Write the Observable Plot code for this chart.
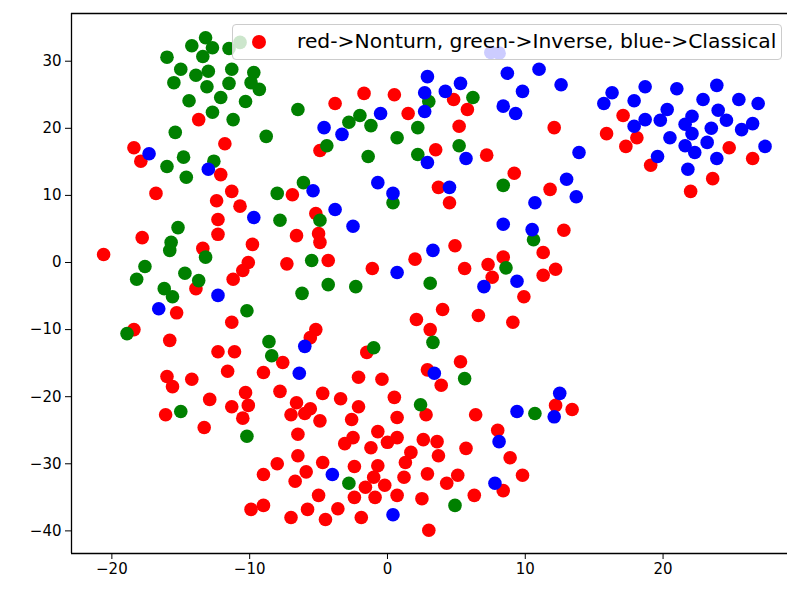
<!DOCTYPE html>
<html>
<head>
<meta charset="utf-8">
<script src="https://cdn.jsdelivr.net/npm/d3@7"></script>
<script src="https://cdn.jsdelivr.net/npm/@observablehq/plot@0.6"></script>
<style>
  body { margin: 0; background: #fff; }
  #wrap { position: relative; width: 787px; height: 592px; }
  #legend {
    position: absolute; left: 232px; top: 24px; width: 548px; height: 34px;
    background: rgba(255,255,255,0.8); border: 1px solid #cccccc; border-radius: 4px;
    font-family: "DejaVu Sans", sans-serif; font-size: 20.3px; color: #000;
  }
  #legend .mk { position: absolute; left: 19px; top: 10px; width: 14px; height: 14px; border-radius: 50%; background: #ff0000; }
  #legend .tx { position: absolute; left: 64px; top: 4px; white-space: nowrap; }
</style>
</head>
<body>
<div id="wrap"><div id="legend"><span class="mk"></span><span class="tx"></span></div></div>
<script>
const legendText = "red->Nonturn, green->Inverse, blue->Classical";
const xTicks = [-20, -10, 0, 10, 20];
const yTicks = [-40, -30, -20, -10, 0, 10, 20, 30];

// Nonturn (red)
const redX = [-18.4,-13.7,-11.8,-3.8,-1.7,0.5,4.8,5.8,1.5,5.2,3.5,-4.9,17.1,15.9,18.1,12.1,17.3,24.8,19.1,26.5,23.6,22.0,11.8,12.8,11.3,12.2,11.3,-17.9,-12.1,-11.3,-12.4,-10.7,-16.8,-12.3,-12.3,-17.8,-20.6,-13.4,-9.8,-10.1,-10.5,-11.2,-6.9,-6.6,-7.3,7.2,9.2,3.7,4.5,-5.2,-5.0,-4.9,-4.3,-1.1,2.0,4.9,5.6,7.3,7.6,8.4,-13.9,-15.3,-18.4,-11.3,-15.8,-12.3,-11.1,-11.6,-9.0,-7.6,-16.0,-15.6,-14.2,-10.3,-7.8,-12.9,-10.1,-11.3,-6.6,-7.0,-16.1,-6.0,-10.5,9.9,4.0,2.1,3.1,6.6,9.1,-5.2,-5.6,-1.5,5.3,2.9,3.9,-2.1,-0.4,-4.7,-3.4,0.5,-2.1,-5.6,6.4,2.8,-4.9,-2.6,0.7,12.2,13.4,-13.3,-6.5,-6.5,-8.0,-9.0,-6.7,-5.9,-9.9,-9.0,-7.0,-5.8,8.0,-0.7,-2.5,-3.1,0.7,0.0,-1.2,2.6,3.6,3.7,5.7,8.9,1.7,1.3,-0.7,-2.4,-4.7,-1.0,1.2,2.9,5.1,4.3,-0.2,-1.6,-5.0,-2.4,-0.9,0.7,2.5,6.3,8.4,9.8,-3.6,-4.5,-1.9,3.0];
const redY = [17.1,21.3,17.7,23.7,25.2,25.0,24.3,22.8,22.2,20.3,16.8,16.7,21.9,19.2,18.6,20.1,17.3,17.1,14.5,15.5,12.5,10.6,10.9,4.8,1.5,-1.0,-1.9,15.1,13.1,10.6,9.2,8.4,10.3,6.4,4.2,3.7,1.2,2.1,2.7,0.0,-1.2,-2.5,10.1,4.0,-0.2,16.0,13.3,11.2,8.9,7.3,4.3,3.0,0.3,-0.9,0.5,2.5,-0.9,-0.3,-2.2,0.8,-3.9,-7.5,-10.0,-8.9,-11.6,-13.3,-13.3,-16.2,-16.4,-14.9,-17.0,-18.5,-17.4,-19.4,-19.2,-20.4,-21.3,-21.5,-20.9,-22.7,-22.7,-22.5,-23.2,-5.1,-7.0,-8.5,-10.0,-7.9,-8.9,-10.0,-11.2,-13.4,-14.8,-16.0,-18.3,-17.1,-17.4,-19.5,-20.3,-20.1,-21.5,-21.8,-22.7,-22.7,-23.6,-23.4,-23.1,-21.3,-21.9,-24.6,-25.6,-28.8,-30.0,-31.6,-32.6,-31.2,-36.8,-36.2,-38.0,-36.8,-25.0,-25.2,-26.1,-27.0,-26.1,-26.8,-27.6,-26.4,-26.7,-28.8,-27.7,-29.1,-28.3,-29.8,-30.3,-30.4,-29.8,-32.0,-32.0,-31.5,-31.7,-32.9,-33.2,-33.5,-34.7,-35.0,-35.0,-34.7,-35.2,-34.7,-34.0,-31.7,-36.7,-38.3,-38.0,-39.9];

// Inverse (green)
const greenX = [-13.2,-14.2,-12.7,-11.5,-16.0,-13.4,-15.0,-13.9,-13.0,-11.3,-9.7,-15.5,-13.1,-11.5,-9.9,-9.3,-14.4,-12.1,-10.3,-12.7,-11.2,-15.4,-8.8,-6.5,-10.7,3.0,6.2,-2.0,-1.2,-2.8,2.2,0.7,5.2,-4.4,-16.0,-14.8,-14.6,-12.6,-8.0,-7.8,-6.1,-15.2,-15.7,-15.8,-13.2,-17.6,-18.2,-14.7,-13.7,-16.2,-5.5,-1.4,2.2,8.4,0.4,-4.9,8.6,10.6,-4.3,-2.3,3.1,-15.6,-10.2,-6.2,-18.9,-8.6,-8.4,-15.0,-1.0,3.3,5.6,2.4,10.7,-10.2,-2.8,4.9];
const greenY = [33.5,32.3,32.0,31.9,30.6,30.7,28.8,27.9,28.5,28.8,28.3,26.8,26.2,26.7,26.8,25.8,24.1,24.6,24.0,22.4,21.3,19.4,18.8,22.8,32.8,24.0,24.6,21.9,20.4,20.9,20.1,18.6,17.4,17.4,14.3,15.7,12.7,15.1,10.3,6.3,11.9,5.2,3.0,1.8,0.8,-0.6,-2.5,-1.6,-2.7,-3.9,0.3,15.8,16.1,11.5,8.9,6.3,-0.8,3.4,-3.3,-3.6,-3.1,-5.1,-7.2,-4.6,-10.6,-11.8,-13.9,-22.2,-12.7,-11.9,-17.3,-21.2,-22.5,-25.9,-32.9,-36.2];

// Classical (blue)
const blueX = [7.5,8.1,2.9,5.3,2.7,4.2,8.7,11.0,9.8,8.4,9.3,-0.5,2.7,-4.6,-3.3,12.6,16.3,15.7,18.7,17.9,20.3,18.7,19.8,17.9,21.0,23.9,22.9,25.5,26.9,24.0,24.6,22.1,21.6,23.5,26.5,25.7,22.1,20.5,23.2,21.6,27.4,13.9,19.6,22.3,23.9,21.8,13.0,13.7,-17.3,-13.0,-9.7,-5.4,2.9,5.7,-0.7,0.4,4.5,-3.8,-2.5,10.7,8.4,10.5,3.3,0.7,9.4,7.0,-16.6,-12.3,-6.0,-6.4,3.4,9.4,12.5,12.1,-4.0,7.8,8.1,0.4];
const blueY = [31.3,31.2,27.7,26.7,25.3,25.5,28.2,28.8,25.5,23.3,22.2,22.2,22.5,20.1,19.1,26.5,25.3,23.7,26.2,24.1,22.8,21.3,21.2,20.3,25.9,26.4,24.3,24.3,23.7,22.7,21.2,21.8,20.6,20.0,20.7,19.8,19.2,18.6,17.9,17.4,17.3,16.4,15.8,16.4,15.5,13.9,12.4,9.8,16.2,13.9,6.7,10.7,14.9,15.5,11.9,10.3,11.2,7.9,5.4,8.9,5.7,4.9,1.8,-1.5,-2.8,-3.6,-6.9,-4.9,-12.5,-16.5,-16.5,-22.2,-19.5,-23.0,-31.6,-32.9,-26.7,-37.6];

const series = [
  {name: "Nonturn", color: "#ff0000", xs: redX, ys: redY},
  {name: "Inverse", color: "#008000", xs: greenX, ys: greenY},
  {name: "Classical", color: "#0000ff", xs: blueX, ys: blueY}
];
const points = series.flatMap(s => s.xs.map((x, i) => ({x, y: s.ys[i], cls: s.name, color: s.color})));

const xDomain = [-22.93, 29.03];
const yDomain = [-43.37, 37.11];

const chart = Plot.plot({
  width: 787,
  height: 592,
  marginLeft: 71,
  marginRight: 0,
  marginTop: 13,
  marginBottom: 39,
  style: {fontFamily: "DejaVu Sans, sans-serif", fontSize: "15px", color: "#000", background: "#fff", overflow: "visible"},
  x: {domain: xDomain, ticks: xTicks, tickSize: 6, tickPadding: 4, label: null, line: false},
  y: {domain: yDomain, ticks: yTicks, tickSize: 6, tickPadding: 4, label: null, line: false},
  marks: [
    Plot.dot(points, {x: "x", y: "y", r: 6.8, fill: "color", stroke: null}),
    Plot.ruleX([xDomain[0]], {stroke: "#000", strokeWidth: 1.3}),
    Plot.ruleY([yDomain[0], yDomain[1]], {stroke: "#000", strokeWidth: 1.3})
  ]
});
const wrap = document.getElementById("wrap");
wrap.insertBefore(chart, wrap.firstChild);
document.querySelector("#legend .tx").textContent = legendText;
</script>
</body>
</html>
